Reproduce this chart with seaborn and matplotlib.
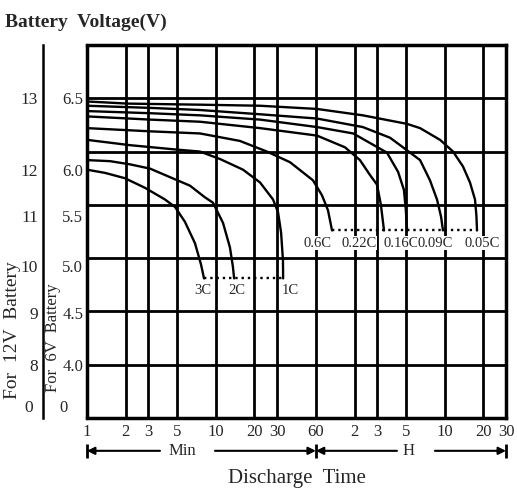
import numpy as np
import pandas as pd
import seaborn as sns
import matplotlib.pyplot as plt
from matplotlib.ticker import NullLocator

# Curvas de descarga (tiempo en minutos, tension de bateria de 6V)
tasas = ["3C", "2C", "1C", "0.6C", "0.22C", "0.16C", "0.09C", "0.05C"]

t_3c = [1.0, 1.38, 1.97, 2.82, 4.04, 4.83, 5.77, 6.90, 7.69, 8.11]
v_3c = [5.83, 5.80, 5.75, 5.66, 5.55, 5.48, 5.34, 5.14, 4.94, 4.81]

t_2c = [1.0, 1.51, 2.16, 3.09, 4.41, 6.31, 8.26, 9.53, 11.4, 12.9, 13.6, 13.9]
v_2c = [5.92, 5.91, 5.88, 5.84, 5.76, 5.68, 5.57, 5.52, 5.33, 5.10, 4.92, 4.81]

t_1c = [1.0, 2.16, 4.83, 7.55, 10.8, 16.3, 22.1, 27.9, 30.5, 32.2, 33.3, 33.4]
v_1c = [6.11, 6.06, 6.02, 6.00, 5.93, 5.83, 5.71, 5.55, 5.43, 5.24, 4.98, 4.81]

t_06c = [1.0, 3.09, 7.55, 15.4, 25.0, 37.8, 57.0, 66.9, 74.5, 80.1]
v_06c = [6.22, 6.19, 6.17, 6.10, 6.00, 5.90, 5.73, 5.59, 5.45, 5.26]

t_022c = [1.0, 3.09, 7.55, 22.1, 61.2, 101, 132, 158, 179, 192, 203]
v_022c = [6.33, 6.30, 6.28, 6.22, 6.15, 6.04, 5.92, 5.78, 5.69, 5.50, 5.26]

t_016c = [1.0, 3.09, 7.55, 22.1, 61.2, 117, 214, 261, 290, 300, 307]
v_016c = [6.38, 6.36, 6.34, 6.30, 6.23, 6.17, 5.99, 5.81, 5.64, 5.45, 5.26]

t_009c = [1.0, 3.09, 7.55, 22.1, 61.2, 139, 226, 285, 387, 462, 524, 563, 583]
v_009c = [6.43, 6.41, 6.39, 6.35, 6.31, 6.23, 6.13, 6.04, 5.92, 5.73, 5.55, 5.39, 5.26]

t_005c = [1.0, 2.08, 7.55, 22.1, 61.2, 139, 306, 387, 553, 698, 834, 945, 1034, 1060, 1072]
v_005c = [6.47, 6.45, 6.44, 6.43, 6.40, 6.34, 6.26, 6.22, 6.11, 6.00, 5.86, 5.71, 5.55, 5.40, 5.26]

tiempos = [t_3c, t_2c, t_1c, t_06c, t_022c, t_016c, t_009c, t_005c]
tensiones = [v_3c, v_2c, v_1c, v_06c, v_022c, v_016c, v_009c, v_005c]

# Lineas punteadas de tension final
corte_alto_t = [8.11, 33.4]
corte_alto_v = 4.81
corte_bajo_t = [80.1, 1072]
corte_bajo_v = 5.26

# Etiquetas de las curvas
etiq_t = [7.96, 14.6, 37.8, 62.3, 130, 275, 505, 1172]
etiq_v = [4.70, 4.70, 4.70, 5.14, 5.14, 5.14, 5.14, 5.14]

# Ejes
rejilla_v = [3.5, 4.0, 4.5, 5.0, 5.5, 6.0, 6.5, 7.0]
ticks_t = [1, 2, 3, 5, 10, 20, 30, 60, 120, 180, 300, 600, 1200, 1800]
ticks_txt = ["1", "2", "3", "5", "10", "20", "30", "60", "2", "3", "5", "10", "20", "30"]
pos_etiq_y = [6.48, 5.81, 5.38, 4.91, 4.47, 3.98]
etiq_6v = ["6.5", "6.0", "5.5", "5.0", "4.5", "4.0"]
etiq_12v = ["13", "12", "11", "10", "9", "8"]

filas = []
for tasa, ts, vs in zip(tasas, tiempos, tensiones):
    for i, (t, v) in enumerate(zip(ts, vs)):
        filas.append({"tasa": tasa, "orden": i, "t": t, "v": v})
df = pd.DataFrame(filas)

sns.set_style("white")
plt.rcParams["font.family"] = ["Liberation Serif", "DejaVu Serif"]

fig = plt.figure(figsize=(5.17, 4.93), dpi=100)
ax = fig.add_axes([87 / 517, 1 - 418 / 493, 419 / 517, 373 / 493])

sns.lineplot(data=df, x="t", y="v", units="tasa", estimator=None, sort=False,
             color="black", lw=1.7, ax=ax, legend=False)

ax.plot(corte_alto_t, [corte_alto_v] * 2, ls=":", color="black", lw=1.7)
ax.plot(corte_bajo_t, [corte_bajo_v] * 2, ls=":", color="black", lw=1.7)

for txt, t, v in zip(tasas, etiq_t, etiq_v):
    ax.text(t, v, txt, ha="center", va="center", fontsize=10.5,
            bbox=dict(facecolor="white", edgecolor="none", pad=0.3))

ax.set_xscale("log")
ax.set_xlim(1, 1800)
ax.set_ylim(3.5, 7.0)
ax.xaxis.set_minor_locator(NullLocator())
ax.set_xticks(ticks_t, ticks_txt)
ax.set_yticks(rejilla_v)
ax.tick_params(axis="x", length=0, pad=4, labelsize=12)
ax.tick_params(axis="y", direction="in", length=3, width=1.5, labelleft=False)
ax.grid(True, color="black", lw=2.0)
ax.set_xlabel("")
ax.set_ylabel("")

for lado in ["top", "right", "bottom"]:
    ax.spines[lado].set_color("black")
    ax.spines[lado].set_linewidth(2.5)
ax.spines["left"].set_position(("outward", 44 * 0.72))
ax.spines["left"].set_color("black")
ax.spines["left"].set_linewidth(1.8)
ax.axvline(1, color="black", lw=2.5, clip_on=False)

# Etiquetas de las dos escalas de tension
ty = ax.get_yaxis_transform()
for txt, y in zip(etiq_6v, pos_etiq_y):
    ax.text(-0.009, y, txt, transform=ty, ha="right", va="center", fontsize=12)
for txt, y in zip(etiq_12v, pos_etiq_y):
    ax.text(-0.117, y, txt, transform=ty, ha="right", va="center", fontsize=12.5)
ax.text(-0.057, 3.59, "0", transform=ty, ha="center", va="center", fontsize=12)
ax.text(-0.14, 3.59, "0", transform=ty, ha="center", va="center", fontsize=12.5)

fig.text(13 / 517, 1 - 330 / 493, "For  12V  Battery", rotation=90,
         ha="center", va="center", fontsize=14)
fig.text(53 / 517, 1 - 338 / 493, "For  6V  Battery", rotation=90,
         ha="center", va="center", fontsize=12)
fig.text(5 / 517, 1 - 22 / 493, "Battery  Voltage(V)", ha="left", va="center",
         fontsize=14, weight="bold")

# Flechas de minutos y horas
tx = ax.get_xaxis_transform()
ya = -0.088
flecha = dict(arrowstyle="-|>", color="black", lw=1.5, mutation_scale=11,
              shrinkA=0, shrinkB=0)
for ini, fin in [(3.69, 1), (9.87, 60), (256, 60), (505, 1800)]:
    ax.annotate("", xy=(fin, ya), xytext=(ini, ya), xycoords=tx,
                textcoords=tx, arrowprops=flecha, annotation_clip=False)
ax.plot([1, 60, 1800], [ya] * 3, transform=tx, marker="|", ms=10, mew=2,
        ls="none", color="black", clip_on=False)
ax.text(5.47, ya, "Min", transform=tx, ha="center", va="center", fontsize=12)
ax.text(317, ya, "H", transform=tx, ha="center", va="center", fontsize=12)
ax.text(0.5, -0.163, "Discharge  Time", transform=ax.transAxes, ha="center",
        va="center", fontsize=15)

plt.savefig("out.png", dpi=100)
